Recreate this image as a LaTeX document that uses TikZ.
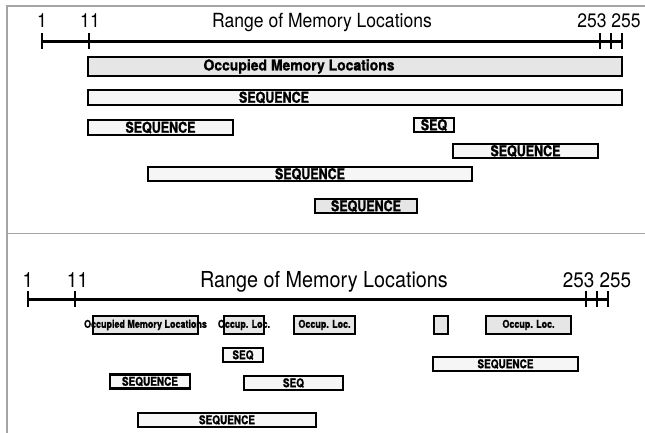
\documentclass[tikz,border=0pt]{standalone}
\usepackage{fontspec}
\setmainfont{TeX Gyre Heros}
\newfontfamily\condfont{texgyreheros-bold}[Extension=.otf, FakeStretch=0.83, FakeBold=1.2]
\newfontfamily\widecondfont{texgyreheros-bold}[Extension=.otf, FakeStretch=0.93, FakeBold=1.2]
\newfontfamily\rangefont{TeX Gyre Heros}[FakeStretch=0.9]
\usetikzlibrary{positioning}
\definecolor{framegray}{RGB}{165,165,165}
\definecolor{occgray}{RGB}{230,230,230}
\definecolor{seqwhite}{RGB}{246,246,246}

\begin{document}
\begin{tikzpicture}[x=1pt, y=-1pt,
  seg/.style={draw=black, line width=2.6pt, inner sep=0pt, minimum height=15pt, fill=seqwhite},
  occ/.style={seg, fill=occgray},
  bigtxt/.style={font=\condfont\fontsize{15}{16}\selectfont, inner sep=0pt},
  smalltxt/.style={font=\condfont\fontsize{12}{13}\selectfont},
  tinytxt/.style={font=\condfont\fontsize{10.8}{12}\selectfont},
  rangetxt/.style={font=\rangefont\fontsize{19.5}{22}\selectfont, anchor=base, inner sep=0pt},
  lowrangetxt/.style={rangetxt, font=\rangefont\fontsize{21}{24}\selectfont},
  axisline/.style={line width=3pt},
  tickmark/.style={line width=2pt},
  panel/.style={draw=framegray, line width=1.5pt}
]
  \useasboundingbox (0,0) rectangle (645,433);

  % Panel frame
  \draw[panel] (645,6) -- (7,6) -- (7,433);
  \draw[panel] (7,233.5) -- (645,233.5);

  % Upper panel: memory scale
  \coordinate (u1) at (42,41.5);
  \coordinate (u11) at (89,41.5);
  \coordinate (u253) at (600,41.5);
  \coordinate (u254) at (611,41.5);
  \coordinate (u255) at (622,41.5);
  \draw[axisline] (u1) -- (u255);
  \foreach \c in {u1,u11,u253,u254,u255}
    \draw[tickmark] (\c) ++(0,-8) -- ++(0,16);
  \node[rangetxt] (u1lbl) at (42,28) {1};
  \node[rangetxt] (u11lbl) at (90,28) {11};
  \node[rangetxt] (uendlbl) at (609,28) {253 255};
  \node[rangetxt] (utitle) at (322,28) {Range of Memory Locations};

  % Upper panel: occupied block and sequences
  \node[occ, minimum width=534pt, minimum height=19pt] (uocc) at (355,66.5) {};
  \node[bigtxt, font=\widecondfont\fontsize{15}{16}\selectfont] (uocclbl) at (299,66.5) {Occupied Memory Locations};
  \node[seg, minimum width=534pt] (useqa) at (355,97.5) {};
  \node[bigtxt] (useqalbl) at (274,97.5) {SEQUENCE};
  \node[seg, bigtxt, minimum width=145pt] (useqb) at (160.5,127.5) {SEQUENCE};
  \node[seg, bigtxt, minimum width=40pt, minimum height=14pt] (useqc) at (434,125) {SEQ};
  \node[seg, bigtxt, minimum width=145pt, minimum height=14pt] (useqd) at (525.5,151) {SEQUENCE};
  \node[seg, bigtxt, minimum width=324pt, minimum height=14pt] (useqe) at (310,174) {SEQUENCE};
  \node[occ, bigtxt, minimum width=102pt, minimum height=14pt] (useqf) at (366,206) {SEQUENCE};

  % Lower panel: memory scale
  \coordinate (l1) at (28,299);
  \coordinate (l11) at (75,299);
  \coordinate (l253) at (586,299);
  \coordinate (l254) at (597,299);
  \coordinate (l255) at (608,299);
  \draw[axisline] (l1) -- (l255);
  \foreach \c in {l1,l11,l253,l254,l255}
    \draw[tickmark] (\c) ++(0,-8) -- ++(0,16);
  \node[lowrangetxt] (l1lbl) at (28,287) {1};
  \node[lowrangetxt] (l11lbl) at (77.5,287) {11};
  \node[lowrangetxt] (lendlbl) at (597,287) {253 255};
  \node[lowrangetxt, font=\rangefont\fontsize{22}{25}\selectfont] (ltitle) at (324,287) {Range of Memory Locations};

  % Lower panel: scattered occupied blocks
  \node[occ, tinytxt, minimum width=105pt, minimum height=18pt] (locca) at (145.5,325) {\makebox[0pt]{Occupied Memory Locations}};
  \node[occ, tinytxt, minimum width=40pt, minimum height=18pt] (loccb) at (244,325) {\makebox[0pt]{Occup. Loc.}};
  \node[occ, tinytxt, minimum width=61pt, minimum height=18pt] (loccc) at (324.5,325) {Occup. Loc.};
  \node[occ, minimum width=14pt, minimum height=18pt] (loccd) at (441,325) {};
  \node[occ, tinytxt, minimum width=85pt, minimum height=18pt] (locce) at (528.5,325) {Occup. Loc.};

  % Lower panel: sequences
  \node[seg, smalltxt, minimum width=40pt, minimum height=14pt] (lseqa) at (243,355) {SEQ};
  \node[seg, smalltxt, minimum width=145pt, minimum height=14pt] (lseqb) at (505.5,364) {SEQUENCE};
  \node[seg, smalltxt, minimum width=80pt, minimum height=14pt] (lseqc) at (150,381.5) {SEQUENCE};
  \node[seg, smalltxt, minimum width=99pt, minimum height=14pt] (lseqd) at (293.5,383) {SEQ};
  \node[seg, smalltxt, minimum width=178pt, minimum height=14pt] (lseqe) at (227,420) {SEQUENCE};
\end{tikzpicture}
\end{document}
